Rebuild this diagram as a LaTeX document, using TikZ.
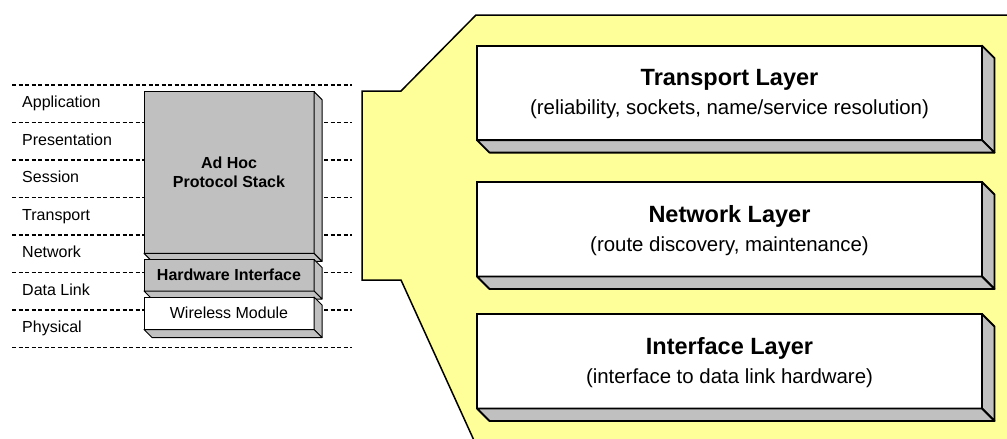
\documentclass[tikz,border=0pt]{standalone}
\usepackage{fontspec}
\setmainfont{Liberation Sans}
\usetikzlibrary{calc}

\definecolor{callout}{HTML}{FFFF99}
\definecolor{slab}{HTML}{C0C0C0}

\tikzset{
  osi/.style={draw=black, line width=1.1pt, dash pattern=on 4pt off 2.5pt},
  osilabel/.style={anchor=base west, inner sep=0pt, font=\fontsize{16}{19}\selectfont},
  stackface/.style={draw=black, line width=1pt, fill=slab, inner sep=0pt, outer sep=0pt,
    minimum width=170pt, align=center},
  layerface/.style={draw=black, line width=1.8pt, fill=white, inner sep=0pt, outer sep=0pt,
    minimum width=505pt, minimum height=94.5pt},
  thinside/.style={draw=black, line width=1pt, fill=slab, line join=round},
  thickside/.style={draw=black, line width=1.8pt, fill=slab, line join=round},
  layertitle/.style={anchor=base, inner sep=0pt, font=\fontsize{23.5}{28}\bfseries},
  layersub/.style={anchor=base, inner sep=0pt, font=\fontsize{20.4}{24}\selectfont},
}

% right and lower faces of an extruded block: #1 style, #2 node, #3 depth
\newcommand\blockdepth[3]{%
  \draw[#1] (#2.north east) -- ++(#3,#3) -- ($(#2.south east)+(#3,#3)$) -- (#2.south east) -- cycle;
  \draw[#1] (#2.south west) -- ++(#3,#3) -- ($(#2.south east)+(#3,#3)$) -- (#2.south east) -- cycle;
}

\begin{document}
\begin{tikzpicture}[x=1pt, y=-1pt]
\useasboundingbox (0,0) rectangle (1007,439);

% OSI reference rows
\foreach \k in {0,...,7}
  \draw[osi] (12,{85+37.5*\k}) -- (352,{85+37.5*\k});
\foreach \name [count=\k from 0] in {Application,Presentation,Session,Transport,Network,Data Link,Physical}
  \node[osilabel] (osi\k) at (22,{85+37.5*\k+18.75+4}) {\name};

% protocol stack blocks
\node[stackface, minimum height=161.6pt, font=\fontsize{16}{19}\bfseries] (stack) at (229,172.5)
  {Ad Hoc\\Protocol Stack};
\blockdepth{thinside}{stack}{8}
\node[stackface, minimum height=31.5pt, font=\fontsize{16}{19}\bfseries] (hw) at (229,275.25) {Hardware Interface};
\blockdepth{thinside}{hw}{8}
\node[stackface, fill=white, minimum height=32.5pt, font=\fontsize{16}{19}\selectfont] (radio) at (229,313.25) {Wireless Module};
\blockdepth{thinside}{radio}{8}

% callout expanding the stack
\begin{scope}
\clip (0,0) rectangle (1007,439);
\draw[line width=1.5pt, fill=callout, line join=miter]
  (476,15) -- (1015,15) -- (1015,447) -- (477,447) -- (401,280) -- (362,280)
  -- (362,91) -- (401,91) -- cycle;
\end{scope}

% layers of the ad hoc stack
\foreach \id/\cy/\title/\sub in {
    tl/92.85/Transport Layer/{(reliability, sockets, name/service resolution)},
    nl/229.25/Network Layer/{(route discovery, maintenance)},
    il/361.25/Interface Layer/{(interface to data link hardware)}} {
  \node[layerface] (\id) at (729.5,\cy) {};
  \blockdepth{thickside}{\id}{12.5}
  \node[layertitle] (\id-title) at ([yshift=7pt]\id.center) {\title};
  \node[layersub] (\id-sub) at ([yshift=-22pt]\id.center) {\sub};
}
\end{tikzpicture}
\end{document}
